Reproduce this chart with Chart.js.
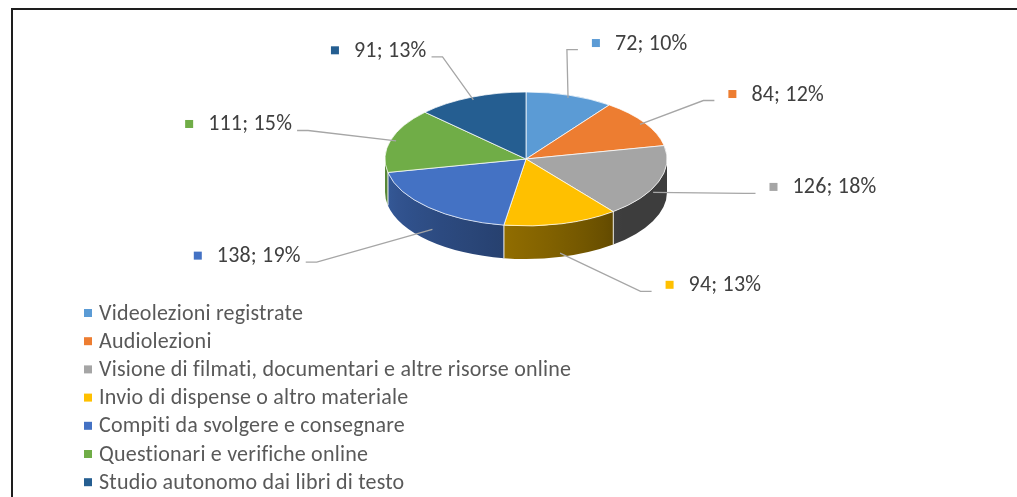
<!DOCTYPE html>
<html>
<head>
<meta charset="utf-8">
<script src="https://cdn.jsdelivr.net/npm/chart.js@4/dist/chart.umd.min.js"></script>
<style>
  html, body { margin: 0; padding: 0; background: #fff; }
  #wrap { position: relative; width: 1017px; height: 497px; overflow: hidden; }
  #frame { position: absolute; left: 11px; top: 8px; right: -10px; bottom: -10px;
           border-top: 2px solid #1e1e1e; border-left: 2px solid #1e1e1e; }
  canvas { position: absolute; left: 0; top: 0; }
</style>
</head>
<body>
<div id="wrap">
  <canvas id="pie" width="1017" height="497"></canvas>
  <div id="frame"></div>
</div>
<script>
// dati
const labels = [
  "Videolezioni registrate",
  "Audiolezioni",
  "Visione di filmati, documentari e altre risorse online",
  "Invio di dispense o altro materiale",
  "Compiti da svolgere e consegnare",
  "Questionari e verifiche online",
  "Studio autonomo dai libri di testo"
]
const values = [72, 84, 126, 94, 138, 111, 91]
const percents = ["10%", "12%", "18%", "13%", "19%", "15%", "13%"]
const colors = ["#5B9BD5", "#ED7D31", "#A5A5A5", "#FFC000", "#4472C4", "#70AD47", "#255E91"]

const FONT = '"Carlito", "Lato", "Open Sans", sans-serif'

function hexRgb(h) {
  return [parseInt(h.substr(1, 2), 16), parseInt(h.substr(3, 2), 16), parseInt(h.substr(5, 2), 16)]
}
function shade(h, f) {
  let c = hexRgb(h)
  return "rgb(" + c.map(v => Math.round(v * f)).join(",") + ")"
}
// luce da sinistra: lato destro piu' scuro
function sideShade(a) {
  let t = Math.min(Math.max((a - 0.87) / 2.27, 0), 1)
  return 0.37 + 0.43 * Math.pow(t, 0.8)
}

// torta 3D: bordo laterale + schiacciamento verticale
const pie3d = {
  id: "pie3d",
  beforeDatasetsDraw(chart, args, opts) {
    const ctx = chart.ctx
    const arcs = chart.getDatasetMeta(0).data
    const k = opts.tilt, depth = opts.depth
    arcs.forEach((arc, i) => {
      let a0 = Math.max(arc.startAngle, 0)
      let a1 = Math.min(arc.endAngle, Math.PI)
      if (a1 <= a0) return
      let cx = arc.x, cy = arc.y, r = arc.outerRadius, ry = r * k
      let xl = cx + r * Math.cos(a1), xr = cx + r * Math.cos(a0)
      let g = ctx.createLinearGradient(xl, 0, Math.max(xr, xl + 1), 0)
      for (let s = 0; s <= 10; s++) {
        let a = a1 - (a1 - a0) * s / 10
        let off = (cx + r * Math.cos(a) - xl) / Math.max(xr - xl, 1)
        g.addColorStop(Math.min(Math.max(off, 0), 1), shade(colors[i], sideShade(a)))
      }
      ctx.save()
      ctx.beginPath()
      ctx.ellipse(cx, cy, r, ry, 0, a0, a1, false)
      ctx.ellipse(cx, cy + depth, r, ry, 0, a1, a0, true)
      ctx.closePath()
      ctx.fillStyle = g
      ctx.fill()
      ctx.strokeStyle = "rgba(255,255,255,0.7)"
      ctx.lineWidth = 1
      ;[a0, a1].forEach(a => {
        if (a > 0.01 && a < Math.PI - 0.01) {
          let x = cx + r * Math.cos(a), y = cy + ry * Math.sin(a)
          ctx.beginPath()
          ctx.moveTo(x, y)
          ctx.lineTo(x, y + depth)
          ctx.stroke()
        }
      })
      ctx.restore()
    })
    const c = arcs[0]
    ctx.save()
    ctx.translate(c.x, c.y)
    ctx.scale(1, k)
    ctx.translate(-c.x, -c.y)
  },
  afterDatasetsDraw(chart) {
    chart.ctx.restore()
  },
  afterDraw(chart, args, opts) {
    const ctx = chart.ctx
    const arcs = chart.getDatasetMeta(0).data
    const k = opts.tilt, depth = opts.depth
    ctx.save()
    ctx.font = "22px " + FONT
    ctx.letterSpacing = "0.2px"
    ctx.textBaseline = "middle"
    // etichette con linee guida
    arcs.forEach((arc, i) => {
      let mid = (arc.startAngle + arc.endAngle) / 2
      let c = Math.cos(mid), s = Math.sin(mid)
      let r = arc.outerRadius, ry = r * k
      let sp = Math.max(s, 0)
      let nudge = opts.labelShift[i]
      let ax = arc.x + r * 0.96 * c
      let ay = arc.y + ry * 0.96 * s + depth * sp
      let ex = arc.x + (225 + 110 * sp * sp) * c + nudge[0]
      let ey = arc.y + 112 * s + depth * sp * sp + nudge[1]
      let dir = c >= 0 ? 1 : -1
      let lx = ex + 11 * dir
      ctx.strokeStyle = "#A6A6A6"
      ctx.lineWidth = 1.3
      ctx.beginPath()
      ctx.moveTo(ax, ay)
      ctx.lineTo(ex, ey)
      ctx.lineTo(lx, ey)
      ctx.stroke()
      let txt = values[i] + "; " + percents[i]
      let w = ctx.measureText(txt).width
      let ty = ey - 5.5
      let tx = dir > 0 ? lx + 37 : lx - 5 - w
      ctx.fillStyle = colors[i]
      ctx.fillRect(tx - 23, ty - 5, 8, 8)
      ctx.fillStyle = "#404040"
      ctx.textAlign = "left"
      ctx.fillText(txt, tx, ty)
    })
    // legenda verticale
    labels.forEach((lab, i) => {
      let y = 314 + i * 28.2
      ctx.fillStyle = colors[i]
      ctx.fillRect(84, y - 5, 8, 8)
      ctx.fillStyle = "#595959"
      ctx.fillText(lab, 99, y)
    })
    ctx.restore()
  }
}

const chart = new Chart(document.getElementById("pie"), {
  type: "pie",
  data: {
    labels: labels,
    datasets: [{
      data: values,
      backgroundColor: colors,
      borderColor: "#ffffff",
      borderWidth: 1,
      radius: 141
    }]
  },
  options: {
    responsive: false,
    animation: false,
    events: [],
    layout: { padding: { left: 385, right: 350, top: 18, bottom: 197 } },
    plugins: {
      legend: { display: false },
      tooltip: { enabled: false },
      pie3d: {
        tilt: 0.475,
        depth: 33,
        labelShift: [[-29, -3], [-12, 2], [-5, -8], [32, -7], [-14, 5], [-2, 3], [4, 1]]
      }
    }
  },
  plugins: [pie3d]
})
</script>
</body>
</html>
